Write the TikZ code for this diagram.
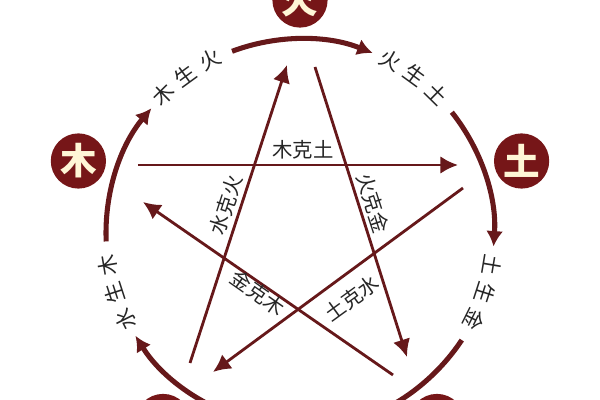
\documentclass[tikz,border=0pt]{standalone}
\usepackage{fontspec}
\newfontfamily\cjk{Noto Sans CJK SC}
\usetikzlibrary{arrows.meta}
\definecolor{wxred}{RGB}{118,22,24}
\definecolor{wxline}{RGB}{102,24,26}
\definecolor{wxcream}{RGB}{255,246,214}
\begin{document}
\begin{tikzpicture}[x=0.025cm, y=0.025cm,
    element/.style={circle, fill=wxred, text=wxcream, minimum size=1.38cm,
              inner sep=0pt, font=\fontsize{26}{26}\selectfont\cjk\bfseries},
    shengarc/.style={wxline, line width=3.6pt, -{Latex[length=11pt,width=12pt]}},
    keline/.style={wxline, line width=2pt, -{Latex[length=12.5pt,width=12.5pt]}},
    lbl/.style={inner sep=0pt, text=black!85, font=\fontsize{15}{15}\selectfont\cjk},
    kelbl/.style={inner sep=0pt, text=black!85, font=\fontsize{14.5}{14.5}\selectfont\cjk}]
                \useasboundingbox (-300,-167) rectangle (300,233);
                \foreach \i/\el/\nm [
                    evaluate = \i as \ti using {90 - (\i)*72}
                    ] in {0/火/huo,1/土/tu,2/金/jin,3/水/shui,4/木/mu}{
                    \node[element] (\nm) at (\ti : 233) {\el};
                    \coordinate (a\nm) at ({\ti+20.5} : 194);
                    \draw[shengarc] (a\nm) arc[start angle={\ti+20.5}, end angle={\ti-22}, radius=4.85cm];
                };
                \foreach \a/\p/\q/\r [count=\k] in {126/木/生/火, 54/火/生/土, -18/土/生/金, -90/金/生/水, 198/水/生/木}{
                    \node[lbl, rotate={\a-81.5}] (s\k a) at ({\a+8.5} : 195) {\p};
                    \node[lbl, rotate={\a-90}] (s\k b) at (\a : 195) {\q};
                    \node[lbl, rotate={\a-98.5}] (s\k c) at ({\a-8.5} : 195) {\r};
                };
                \foreach \nm/\ax/\ay/\bx/\by in {mt/-162/68/158/68, ts/163/45/-87/-139,
                    sh/-110/-130/-13/168, hj/15/166/107/-124, jm/93/-142/-157/31}{
                    \coordinate (\nm a) at (\ax,\ay);
                    \coordinate (\nm b) at (\bx,\by);
                    \draw[keline] (\nm a) -- (\nm b);
                };
                \node[kelbl] (mtl) at (3,83) {木克土};
                \node[kelbl, rotate=72] (shl) at (-74,28) {水克火};
                \node[kelbl, rotate=-72] (hjl) at (73,30) {火克金};
                \node[kelbl, rotate=-35] (jml) at (-42,-60) {金克木};
                \node[kelbl, rotate=36] (tsl) at (52,-65) {土克水};
            \end{tikzpicture}
\end{document}
